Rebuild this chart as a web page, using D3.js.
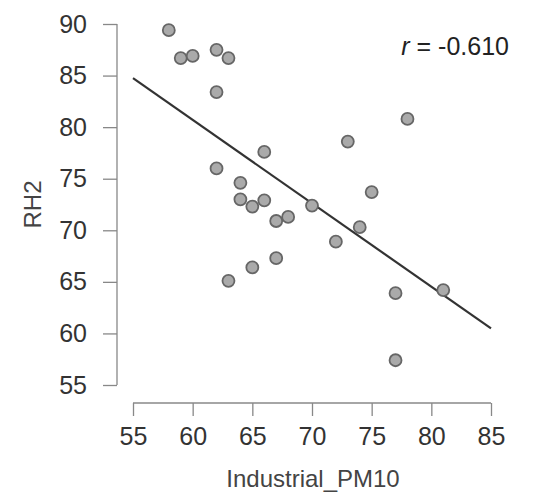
<!DOCTYPE html>
<html>
<head>
<meta charset="utf-8">
<script src="https://cdn.jsdelivr.net/npm/d3@7"></script>
<style>
  body { margin: 0; background: #fff; }
  text { font-family: "Liberation Sans", Arial, sans-serif; }
</style>
</head>
<body>
<svg width="549" height="499"></svg>
<script>
// data
const pm10 = [58, 59, 60, 62, 63, 62, 62, 66, 64, 64, 65, 66, 67, 68, 70, 67, 65, 63, 72, 74, 75, 73, 78, 77, 81, 77];
const rh2 = [89.4, 86.7, 86.9, 87.5, 86.7, 83.4, 76.0, 77.6, 74.6, 73.0, 72.3, 72.9, 70.9, 71.3, 72.4, 67.3, 66.4, 65.1, 68.9, 70.3, 73.7, 78.6, 80.8, 63.9, 64.2, 57.4];
const xTicks = [55, 60, 65, 70, 75, 80, 85];
const yTicks = [55, 60, 65, 70, 75, 80, 85, 90];
const rLabel = "-0.610";

const svg = d3.select("svg");

const x = d3.scaleLinear().domain([55, 85]).range([133, 491]);
const y = d3.scaleLinear().domain([55, 90]).range([385, 24]);

// least squares fit
const mx = d3.mean(pm10), my = d3.mean(rh2);
let sxy = 0, sxx = 0;
pm10.forEach((v, i) => { sxy += (v - mx) * (rh2[i] - my); sxx += (v - mx) * (v - mx); });
const slope = sxy / sxx;
const intercept = my - slope * mx;

// axes, R style
const xAxis = svg.append("g")
  .attr("transform", "translate(0,403)")
  .call(d3.axisBottom(x).tickValues(xTicks).tickSize(13).tickPadding(11));
const yAxis = svg.append("g")
  .attr("transform", "translate(117,0)")
  .call(d3.axisLeft(y).tickValues(yTicks).tickSize(14).tickPadding(16));

[xAxis, yAxis].forEach(g => {
  g.select(".domain").attr("stroke", "#888").attr("stroke-width", 1.3);
  g.selectAll(".tick line").attr("stroke", "#888").attr("stroke-width", 1.3);
  g.selectAll(".tick text").attr("fill", "#333").style("font-size", "25px");
});
xAxis.select(".domain").attr("d", `M${x(55)},0H${x(85)}`);
yAxis.select(".domain").attr("d", `M0,${y(55)}V${y(90)}`);

svg.append("text")
  .attr("x", (x(55) + x(85)) / 2 + 1)
  .attr("y", 487)
  .attr("text-anchor", "middle")
  .attr("fill", "#444")
  .style("font-size", "24px")
  .text("Industrial_PM10");

svg.append("text")
  .attr("transform", `translate(41,${(y(55) + y(90)) / 2}) rotate(-90)`)
  .attr("text-anchor", "middle")
  .attr("fill", "#444")
  .style("font-size", "24px")
  .text("RH2");

// regression line
svg.append("line")
  .attr("x1", x(55)).attr("y1", y(intercept + slope * 55))
  .attr("x2", x(85)).attr("y2", y(intercept + slope * 85))
  .attr("stroke", "#333")
  .attr("stroke-width", 2.2);

// points
svg.append("g").selectAll("circle")
  .data(pm10.map((v, i) => [v, rh2[i]]))
  .join("circle")
  .attr("cx", d => x(d[0]))
  .attr("cy", d => y(d[1]))
  .attr("r", 6)
  .attr("fill", "#aaa")
  .attr("stroke", "#666")
  .attr("stroke-width", 1.8);

// correlation label
const lab = svg.append("text")
  .attr("x", 509)
  .attr("y", 55)
  .attr("text-anchor", "end")
  .attr("fill", "#222")
  .style("font-size", "25px");
lab.append("tspan").style("font-style", "italic").text("r");
lab.append("tspan").text(" = " + rLabel);
</script>
</body>
</html>
